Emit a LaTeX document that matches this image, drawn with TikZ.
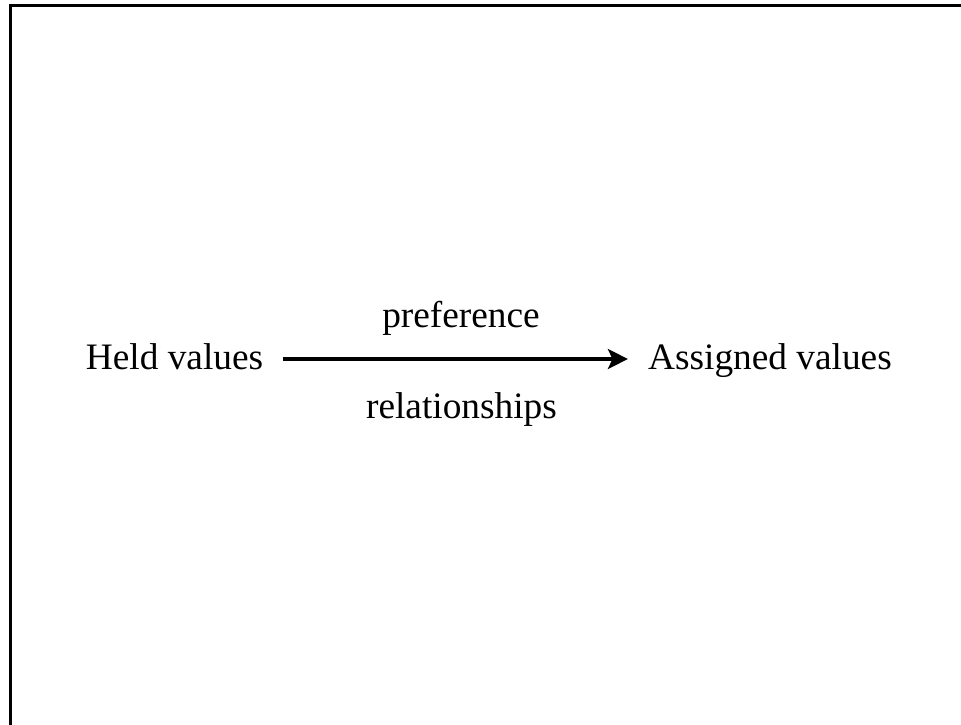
\documentclass[tikz,border=0pt]{standalone}
\usepackage{fontspec}
\setmainfont{Liberation Serif}
\usetikzlibrary{arrows.meta,positioning}

\tikzset{
  term/.style={font=\fontsize{28}{34}\selectfont, anchor=base, inner ysep=0pt,
    inner xsep=15pt, text height=19pt, text depth=4pt},
  note/.style={font=\fontsize{28}{34}\selectfont, anchor=base, inner sep=0pt},
  flow/.style={line width=3pt, -{Stealth[length=15pt,width=15pt,inset=3.5pt]}}
}

\begin{document}
\begin{tikzpicture}[x=0.75pt,y=-0.75pt]
  \useasboundingbox (0,0) rectangle (961,725);
  \clip (0,0) rectangle (961,725);
  % frame, cut at right and bottom
  \draw[line width=2pt] (10.3,740) -- (10.3,5.7) -- (975,5.7);
  \node[term] (held) at (174.5,369) {Held values};
  \node[term] (assigned) at (770,369) {Assigned values};
  \draw[flow] (held) -- (assigned);
  \node[note] (pref) at (461,327) {preference};
  \node[note] (rel) at (461.5,418) {relationships};
\end{tikzpicture}
\end{document}
